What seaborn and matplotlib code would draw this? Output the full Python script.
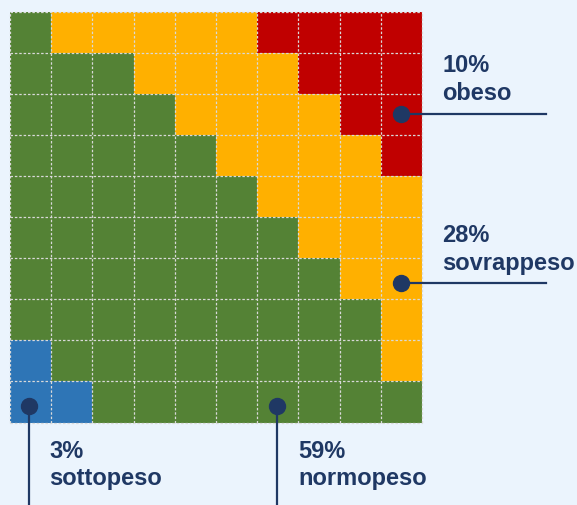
import numpy as np
import matplotlib
matplotlib.use("Agg")
import matplotlib.pyplot as plt
from matplotlib.colors import ListedColormap
import seaborn as sns

# Categories and shares (percent of 100 squares)
categories = ['sottopeso', 'normopeso', 'sovrappeso', 'obeso']
percent = [3, 59, 28, 10]
colors = ['#2E75B6', '#548235', '#FFB000', '#C00000']

# How many squares of each class sit in each row (top to bottom)
blue_per_row = [0, 0, 0, 0, 0, 0, 0, 0, 1, 2]
orange_per_row = [5, 4, 4, 4, 4, 3, 2, 1, 1, 0]
red_per_row = [4, 3, 2, 1, 0, 0, 0, 0, 0, 0]

# Build the 10x10 waffle: blue | green | orange | red from left to right
grid = np.ones((10, 10), dtype=int)
for i in range(10):
    b, o, r = blue_per_row[i], orange_per_row[i], red_per_row[i]
    grid[i, :b] = 0
    if o:
        grid[i, 10 - r - o:10 - r] = 2
    if r:
        grid[i, 10 - r:] = 3

bg = '#EBF4FD'
navy = '#1F3864'

fig = plt.figure(figsize=(5.77, 5.06), dpi=100, facecolor=bg)
ax = fig.add_axes([10 / 577, (506 - 423.5) / 506, 412 / 577, 411 / 506])
ax.set_facecolor(bg)

sns.heatmap(grid, cmap=ListedColormap(colors), vmin=-0.5, vmax=3.5, cbar=False,
            xticklabels=False, yticklabels=False, ax=ax)

# dashed grid between squares
for k in range(11):
    ax.axhline(k, color='#d9d9d9', lw=0.9, ls=(0, (2, 1.5)), clip_on=False)
    ax.axvline(k, color='#d9d9d9', lw=0.9, ls=(0, (2, 1.5)), clip_on=False)

ax.set_xlim(0, 10)
ax.set_ylim(10, 0)
for s in ax.spines.values():
    s.set_visible(False)

# pointer dots, lines and labels
fs = 17
font = dict(family=['Liberation Sans', 'Arial', 'DejaVu Sans'], weight='bold', color=navy, fontsize=fs)

# obeso
ax.plot([9.5, 13.0], [2.5, 2.5], color=navy, lw=1.6, clip_on=False, zorder=5)
ax.plot(9.5, 2.5, 'o', color=navy, ms=11.5, clip_on=False, zorder=6)
ax.text(10.49, 1.45, f'{percent[3]}%', va='baseline', clip_on=False, **font)
ax.text(10.49, 2.14, categories[3], va='baseline', clip_on=False, **font)

# sovrappeso
ax.plot([9.5, 13.0], [6.6, 6.6], color=navy, lw=1.6, clip_on=False, zorder=5)
ax.plot(9.5, 6.6, 'o', color=navy, ms=11.5, clip_on=False, zorder=6)
ax.text(10.49, 5.58, f'{percent[2]}%', va='baseline', clip_on=False, **font)
ax.text(10.49, 6.27, categories[2], va='baseline', clip_on=False, **font)

# sottopeso
ax.plot([0.45, 0.45], [9.6, 12.1], color=navy, lw=1.6, clip_on=False, zorder=5)
ax.plot(0.45, 9.6, 'o', color=navy, ms=11.5, clip_on=False, zorder=6)
ax.text(0.95, 10.83, f'{percent[0]}%', va='baseline', clip_on=False, **font)
ax.text(0.95, 11.5, categories[0], va='baseline', clip_on=False, **font)

# normopeso
ax.plot([6.48, 6.48], [9.6, 12.1], color=navy, lw=1.6, clip_on=False, zorder=5)
ax.plot(6.48, 9.6, 'o', color=navy, ms=11.5, clip_on=False, zorder=6)
ax.text(7.0, 10.83, f'{percent[1]}%', va='baseline', clip_on=False, **font)
ax.text(7.0, 11.5, categories[1], va='baseline', clip_on=False, **font)

fig.savefig('out.png', dpi=100, facecolor=bg)
